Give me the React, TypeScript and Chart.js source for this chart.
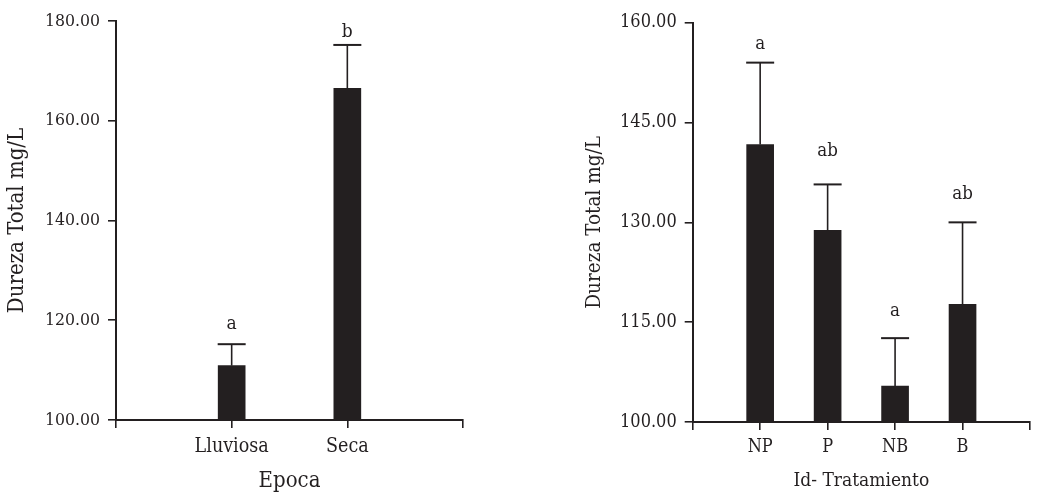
import React, { useEffect, useRef } from 'react';
import { Chart, registerables } from 'chart.js';

Chart.register(...registerables);

// ---- Left panel: Epoca ----
const epocaCategories = ['Lluviosa', 'Seca'];
const epocaMeans = [110.9, 166.5];
const epocaErrTop = [115.2, 175.2];
const epocaLetters = ['a', 'b'];
const epocaLetterAt = [118.2, 176.8];
const epocaTicks = [100, 120, 140, 160, 180];

// ---- Right panel: Id- Tratamiento ----
const tratCategories = ['NP', 'P', 'NB', 'B'];
const tratMeans = [141.7, 128.8, 105.4, 117.7];
const tratErrTop = [154.0, 135.7, 112.6, 130.0];
const tratLetters = ['a', 'ab', 'a', 'ab'];
const tratLetterAt = [156.0, 139.9, 116.0, 133.5];
const tratTicks = [100, 115, 130, 145, 160];

const INK = '#231f20';
const SERIF = "'DejaVu Serif Condensed', 'DejaVu Serif', serif";

function errorPlugin(means: number[], tops: number[], letters: string[], letterAt: number[], fontSize: number) {
  return {
    id: 'errLetters',
    afterDatasetsDraw(chart: any) {
      const { ctx, scales } = chart;
      const x = scales.x;
      const y = scales.y;
      ctx.save();
      ctx.strokeStyle = INK;
      ctx.fillStyle = INK;
      means.forEach((m, i) => {
        const px = x.getPixelForValue(i + 1);
        const yb = y.getPixelForValue(m);
        const yt = y.getPixelForValue(tops[i]);
        ctx.lineWidth = 1.6;
        ctx.beginPath();
        ctx.moveTo(px, yb);
        ctx.lineTo(px, yt);
        ctx.stroke();
        ctx.lineWidth = 2;
        ctx.beginPath();
        ctx.moveTo(px - 14, yt);
        ctx.lineTo(px + 14, yt);
        ctx.stroke();
        ctx.font = `${fontSize}px ${SERIF}`;
        ctx.textAlign = 'center';
        ctx.textBaseline = 'alphabetic';
        ctx.fillText(letters[i], px, y.getPixelForValue(letterAt[i]));
      });
      ctx.restore();
    },
  };
}

function buildConfig(p: any): any {
  return {
    type: 'bar',
    data: {
      labels: ['', ...p.categories, ''],
      datasets: [
        {
          data: [null, ...p.means, null],
          backgroundColor: INK,
          borderWidth: 0,
          barThickness: 27,
        },
      ],
    },
    options: {
      responsive: false,
      animation: false,
      layout: { padding: p.padding },
      plugins: { legend: { display: false }, tooltip: { enabled: false } },
      scales: {
        x: {
          type: 'category',
          offset: false,
          grid: {
            offset: false,
            drawOnChartArea: false,
            drawTicks: true,
            tickLength: 8,
            color: INK,
            lineWidth: 1.6,
          },
          border: { display: true, color: INK, width: 2 },
          ticks: {
            autoSkip: false,
            maxRotation: 0,
            minRotation: 0,
            padding: p.xTickPad,
            color: INK,
            font: { family: SERIF, size: p.xTickSize },
          },
          title: {
            display: true,
            text: p.xTitle,
            color: INK,
            font: { family: SERIF, size: p.xTitleSize },
            padding: { top: 0, bottom: p.xTitlePadBottom },
          },
          afterFit: (s: any) => {
            s.height = p.xHeight;
          },
        },
        y: {
          min: p.ticks[0],
          max: p.ticks[p.ticks.length - 1],
          grid: { drawOnChartArea: false, drawTicks: true, tickLength: 8, color: INK, lineWidth: 1.6 },
          border: { display: true, color: INK, width: 2 },
          afterBuildTicks: (s: any) => {
            s.ticks = p.ticks.map((v: number) => ({ value: v }));
          },
          ticks: {
            padding: 8,
            color: INK,
            font: { family: SERIF, size: p.yTickSize },
            callback: (v: any) => Number(v).toFixed(2),
          },
          title: {
            display: true,
            text: 'Dureza Total mg/L',
            color: INK,
            font: { family: SERIF, size: p.yTitleSize },
            padding: { top: p.yTitlePadTop, bottom: 0 },
          },
          afterFit: (s: any) => {
            s.width = p.yWidth;
          },
        },
      },
    },
    plugins: [errorPlugin(p.means, p.errTop, p.letters, p.letterAt, p.letterSize)],
  };
}

const leftPanel = {
  categories: epocaCategories,
  means: epocaMeans,
  errTop: epocaErrTop,
  letters: epocaLetters,
  letterAt: epocaLetterAt,
  ticks: epocaTicks,
  xTitle: 'Epoca',
  padding: { left: 0, right: 37, top: 21, bottom: 0 },
  yWidth: 116,
  xHeight: 76,
  yTitleSize: 22,
  yTitlePadTop: 3.8,
  xTitleSize: 22,
  xTitlePadBottom: 1.3,
  xTickSize: 19.5,
  xTickPad: 7,
  yTickSize: 17.5,
  letterSize: 19,
};

const rightPanel = {
  categories: tratCategories,
  means: tratMeans,
  errTop: tratErrTop,
  letters: tratLetters,
  letterAt: tratLetterAt,
  ticks: tratTicks,
  xTitle: 'Id- Tratamiento',
  padding: { left: 0, right: 2, top: 22.7, bottom: 0 },
  yWidth: 172.7,
  xHeight: 74,
  yTitleSize: 20.5,
  yTitlePadTop: 62.7,
  xTitleSize: 19,
  xTitlePadBottom: 3.1,
  xTickSize: 18,
  xTickPad: 7,
  yTickSize: 18,
  letterSize: 18.5,
};

export default function App() {
  const leftRef = useRef<HTMLCanvasElement>(null);
  const rightRef = useRef<HTMLCanvasElement>(null);

  useEffect(() => {
    const c1 = new Chart(leftRef.current as HTMLCanvasElement, buildConfig(leftPanel));
    const c2 = new Chart(rightRef.current as HTMLCanvasElement, buildConfig(rightPanel));
    return () => {
      c1.destroy();
      c2.destroy();
    };
  }, []);

  return (
    <div style={{ position: 'absolute', left: 0, top: 0, width: 1037, height: 496, background: '#fff' }}>
      <canvas
        ref={leftRef}
        width={500}
        height={496}
        style={{ position: 'absolute', left: 0, top: 0, width: 500, height: 496 }}
      />
      <canvas
        ref={rightRef}
        width={517}
        height={496}
        style={{ position: 'absolute', left: 520, top: 0, width: 517, height: 496 }}
      />
    </div>
  );
}
